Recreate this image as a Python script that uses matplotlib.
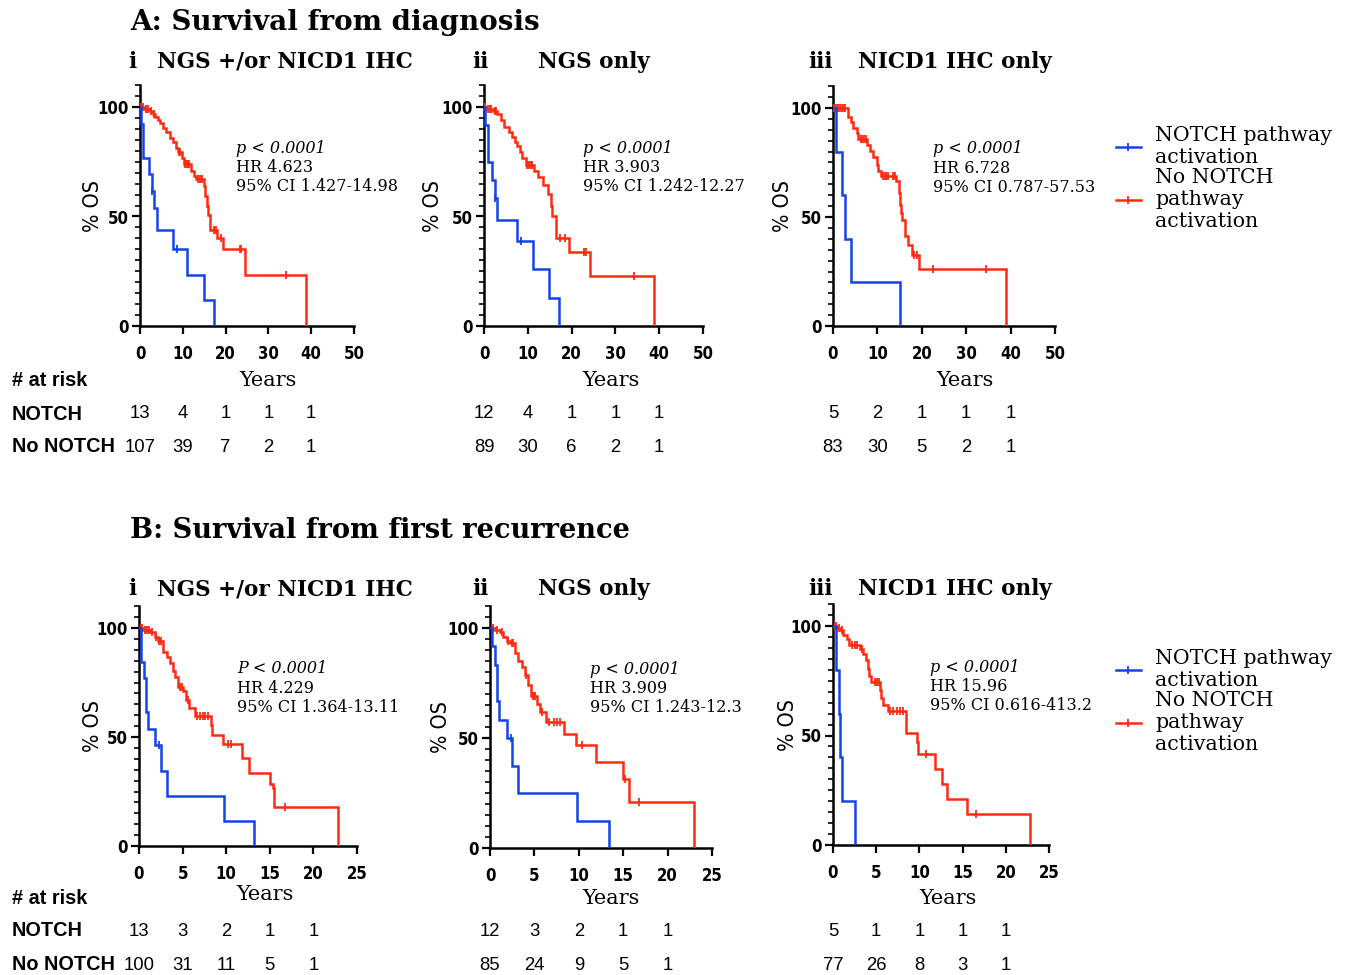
import numpy as np
import matplotlib
matplotlib.use("Agg")
import matplotlib.pyplot as plt
from matplotlib.lines import Line2D
from matplotlib.ticker import MultipleLocator

W, H = 1345, 975
RED = "#ff2a10"
BLUE = "#1444e8"
SERIF = ["DejaVu Serif"]
NARROW = ["DejaVu Sans"]
SANS = ["Liberation Sans", "DejaVu Sans"]

# ---- data: (event times, survival % after event, censor times) ----
ai_blue_t = [0.3, 0.8, 2.2, 2.7, 3.3, 4.0, 7.6, 11.0, 15.0, 17.3]
ai_blue_s = [92.3, 76.9, 69.2, 61.5, 53.8, 44.0, 35.0, 23.5, 11.7, 0]
ai_blue_c = [2.9, 8.7]
ai_red_t = [1.0, 2.3, 3.0, 3.6, 4.2, 4.6, 5.3, 6.1, 7.0, 7.8, 8.4, 8.8, 9.7, 10.3, 12.0, 12.5,
            13.2, 14.9, 15.3, 15.6, 15.9, 16.4, 18.0, 19.4, 24.5, 38.8]
ai_red_s = [99, 98, 97, 95.5, 94, 92.5, 90.5, 88.5, 86, 84, 81.5, 79.5, 76.5, 74, 71, 68.5,
            67, 64, 59.5, 55, 50.5, 44, 40, 35, 23.2, 0]
ai_red_c = [0.3, 0.6, 1.5, 1.8, 2.6, 3.2, 9.1, 9.4, 10.6, 10.9, 11.2, 11.5, 13.6, 14.0, 14.4,
            17.2, 17.8, 19.0, 23.3, 23.7, 34.2]

aii_blue_t = [0.2, 0.8, 1.9, 2.4, 3.0, 7.6, 11.2, 14.8, 17.1]
aii_blue_s = [91.7, 75, 66.7, 58.3, 48.6, 38.9, 25.9, 13, 0]
aii_blue_c = [2.6, 8.5]
aii_red_t = [0.5, 2.0, 3.0, 3.9, 4.6, 5.7, 6.5, 7.0, 7.6, 8.2, 8.6, 9.5, 11.4, 12.3, 13.5,
             14.7, 15.2, 15.5, 16.4, 19.4, 24.3, 38.9]
aii_red_s = [99, 98, 97, 94, 91, 88.5, 86.5, 84, 82, 79.5, 76.5, 73.5, 71, 68, 64.5,
             60.5, 55, 50, 40, 34, 22.7, 0]
aii_red_c = [0.3, 1.0, 1.4, 1.7, 2.4, 2.7, 9.9, 10.3, 10.8, 11.0, 17.3, 18.4, 22.8, 23.3, 34.3]

aiii_blue_t = [0.75, 2.0, 2.6, 4.0, 15.0]
aiii_blue_s = [80, 60, 40, 20, 0]
aiii_blue_c = []
aiii_red_t = [3.4, 4.0, 4.5, 5.3, 5.6, 7.7, 8.3, 8.9, 9.8, 10.2, 10.9, 14.3, 14.9, 15.2, 15.4,
              15.6, 16.2, 16.9, 17.7, 19.4, 38.9]
aiii_red_s = [96, 93.5, 91, 88.5, 86, 83, 80.5, 77.5, 74, 71, 69, 66.5, 61, 55.5, 52,
              48.5, 41.5, 37, 32.5, 26, 0]
aiii_red_c = [0.3, 0.7, 1.2, 1.6, 2.0, 2.4, 2.8, 6.2, 6.6, 7.0, 7.4, 11.2, 11.6, 12.0, 12.4,
              13.5, 13.9, 18.3, 18.9, 22.5, 34.5]

bi_blue_t = [0.27, 0.6, 0.77, 1.07, 1.84, 2.5, 3.2, 9.8, 13.2]
bi_blue_s = [84.6, 76.9, 61.5, 53.8, 46.2, 34.6, 23.1, 11.5, 0]
bi_blue_c = [2.35]
bi_red_t = [0.5, 1.3, 1.8, 2.2, 2.8, 3.2, 3.6, 3.9, 4.1, 4.5, 5.1, 5.4, 5.7, 6.4, 8.2, 8.4,
            9.6, 11.8, 12.6, 15.0, 15.35, 15.5, 22.8]
bi_red_s = [99, 98, 96, 94, 89, 86.5, 84, 80.5, 77.5, 73, 71, 67, 63.5, 59.5, 55.5, 51,
            47, 40.5, 33.5, 28.5, 26.5, 18, 0]
bi_red_c = [0.2, 0.4, 0.7, 0.9, 1.1, 1.5, 2.0, 2.3, 2.5, 4.7, 4.9, 5.6, 6.7, 7.0, 7.3, 7.6,
            7.9, 10.2, 10.5, 16.7]

bii_blue_t = [0.2, 0.56, 0.75, 1.05, 1.95, 2.5, 3.2, 9.85, 13.4]
bii_blue_s = [91.7, 83.3, 66.7, 58.3, 50, 37.5, 25, 12.5, 0]
bii_blue_c = [2.4]
bii_red_t = [0.56, 1.1, 1.5, 1.9, 2.26, 2.8, 3.1, 3.6, 3.95, 4.3, 4.6, 5.3, 5.6, 6.3, 8.3,
             9.7, 11.9, 15.0, 15.6, 23.0]
bii_red_s = [99, 98, 96, 94, 93, 88.5, 85, 82.5, 78.5, 74, 69, 65.5, 62, 57.5, 52,
             47, 39, 31.5, 20.7, 0]
bii_red_c = [0.3, 0.8, 1.3, 2.0, 2.5, 2.6, 4.0, 4.8, 5.0, 5.1, 5.8, 6.6, 7.2, 7.6, 7.9,
             10.4, 15.2, 16.8]

biii_blue_t = [0.4, 0.75, 0.85, 1.0, 2.5]
biii_blue_s = [80, 60, 40, 20, 0]
biii_blue_c = []
biii_red_t = [0.5, 0.85, 1.2, 1.6, 1.9, 3.1, 3.5, 3.85, 4.0, 4.2, 4.4, 5.4, 5.6, 5.8, 6.4,
              8.4, 8.5, 9.7, 9.8, 11.8, 12.6, 13.2, 15.5, 22.8]
biii_red_s = [99, 98, 96, 94, 91.5, 89.5, 87, 84.5, 80.5, 77, 74.5, 71, 67, 64, 61,
              56, 51, 47, 41.5, 34.5, 28, 21, 14, 0]
biii_red_c = [0.2, 0.4, 0.7, 1.0, 2.2, 2.5, 2.8, 3.3, 4.9, 5.1, 5.3, 6.6, 7.0, 7.4, 7.8,
              8.1, 10.8, 16.6]

p_texts = ["p < 0.0001", "p < 0.0001", "p < 0.0001", "P < 0.0001", "p < 0.0001", "p < 0.0001"]
hr_texts = ["HR 4.623", "HR 3.903", "HR 6.728", "HR 4.229", "HR 3.909", "HR 15.96"]
ci_texts = ["95% CI 1.427-14.98", "95% CI 1.242-12.27", "95% CI 0.787-57.53",
            "95% CI 1.364-13.11", "95% CI 1.243-12.3", "95% CI 0.616-413.2"]
roman = ["i", "ii", "iii"]
subtitles = ["NGS +/or NICD1 IHC", "NGS only", "NICD1 IHC only"]

risk_times_a = [0, 10, 20, 30, 40]
risk_times_b = [0, 5, 10, 15, 20]
risk_notch = [[13, 4, 1, 1, 1], [12, 4, 1, 1, 1], [5, 2, 1, 1, 1],
              [13, 3, 2, 1, 1], [12, 3, 2, 1, 1], [5, 1, 1, 1, 1]]
risk_no = [[107, 39, 7, 2, 1], [89, 30, 6, 2, 1], [83, 30, 5, 2, 1],
           [100, 31, 11, 5, 1], [85, 24, 9, 5, 1], [77, 26, 8, 3, 1]]

curves = [
    (ai_blue_t, ai_blue_s, ai_blue_c, ai_red_t, ai_red_s, ai_red_c),
    (aii_blue_t, aii_blue_s, aii_blue_c, aii_red_t, aii_red_s, aii_red_c),
    (aiii_blue_t, aiii_blue_s, aiii_blue_c, aiii_red_t, aiii_red_s, aiii_red_c),
    (bi_blue_t, bi_blue_s, bi_blue_c, bi_red_t, bi_red_s, bi_red_c),
    (bii_blue_t, bii_blue_s, bii_blue_c, bii_red_t, bii_red_s, bii_red_c),
    (biii_blue_t, biii_blue_s, biii_blue_c, biii_red_t, biii_red_s, biii_red_c),
]

# axes boxes in pixels: left, right, y of 100%, y of 0%
boxes = [(140, 354, 107, 326), (484, 703, 107, 326), (833, 1055, 108, 326),
         (139, 357, 628, 846), (490, 712, 628, 848), (833, 1049, 626, 845)]
ylabel_x = [103, 443, 793, 103, 451, 798]

fig = plt.figure(figsize=(W / 100, H / 100), dpi=100)


def km(ax, t, s, c, color):
    tt = [0] + list(t)
    ss = [100] + list(s)
    ax.step(tt, ss, where="post", color=color, lw=1.8, solid_joinstyle="miter", zorder=3)
    if c:
        idx = np.searchsorted(tt, c, side="right") - 1
        ax.plot(c, np.array(ss)[idx], ls="none", marker="|", ms=6, mew=1.3, color=color, zorder=3)


for i, (box, cv) in enumerate(zip(boxes, curves)):
    l, r, y100, y0 = box
    top = y0 - (y0 - y100) * 1.1
    ax = fig.add_axes([l / W, 1 - y0 / H, (r - l) / W, (y0 - top) / H])
    km(ax, cv[3], cv[4], cv[5], RED)
    km(ax, cv[0], cv[1], cv[2], BLUE)
    xmax = 50 if i < 3 else 25
    ax.set_xlim(0, xmax)
    ax.set_ylim(0, 110)
    ax.xaxis.set_major_locator(MultipleLocator(10 if i < 3 else 5))
    ax.set_yticks([0, 50, 100])
    ax.yaxis.set_minor_locator(MultipleLocator(5))
    for sp in ["top", "right"]:
        ax.spines[sp].set_visible(False)
    for sp in ["left", "bottom"]:
        ax.spines[sp].set_linewidth(1.8)
    ax.tick_params(axis="both", which="major", direction="out", length=6, width=1.6,
                   labelsize=12, pad=8)
    ax.tick_params(axis="y", which="minor", direction="out", length=3.5, width=1.2)
    ax.tick_params(axis="y", which="major", pad=2)
    for lab in ax.get_xticklabels() + ax.get_yticklabels():
        lab.set_family(NARROW)
        lab.set_fontweight("bold")
        lab.set_fontstretch("condensed")
    ax.patch.set_visible(False)
    ax.set_ylabel("% OS", family=NARROW, fontstretch="condensed", fontsize=15.5)
    ax.yaxis.set_label_coords((ylabel_x[i] - l) / (r - l), 0.5)
    ax.text(0.45, 0.72, p_texts[i], transform=ax.transAxes, family=SERIF, style="italic", fontsize=11.5)
    ax.text(0.45, 0.64, hr_texts[i], transform=ax.transAxes, family=SERIF, fontsize=11.5)
    ax.text(0.45, 0.56, ci_texts[i], transform=ax.transAxes, family=SERIF, fontsize=11.5)

    # panel title
    col = i % 3
    ty = 62 if i < 3 else 589
    fig.text([128, 472, 808][col] / W, 1 - ty / H, roman[col], family=SERIF, fontsize=15.5,
             fontweight="bold", va="center")
    fig.text([157, 538, 858][col] / W, 1 - ty / H, subtitles[col], family=SERIF, fontsize=15.5,
             fontweight="bold", va="center")

    # years label
    yy = [381, 381, 381, 894, 898, 898][i]
    yx = [268, 611, 965, 265, 611, 948][i]
    fig.text(yx / W, 1 - yy / H, "Years", family=SERIF, fontsize=15, ha="center", va="center")

    # at-risk numbers
    rt = risk_times_a if i < 3 else risk_times_b
    row1 = 414 if i < 3 else 931
    row2 = 447 if i < 3 else 965
    for k, x in enumerate(rt):
        xp = ax.transData.transform((x, 0))[0] / fig.dpi / fig.get_figwidth()
        fig.text(xp, 1 - row1 / H, str(risk_notch[i][k]), family=SANS, fontsize=13.3,
                 ha="center", va="center")
        fig.text(xp, 1 - row2 / H, str(risk_no[i][k]), family=SANS, fontsize=13.3,
                 ha="center", va="center")

    if col == 2:
        handles = [Line2D([], [], color=BLUE, lw=1.8, marker="|", ms=6, mew=1.3),
                   Line2D([], [], color=RED, lw=1.8, marker="|", ms=6, mew=1.3)]
        leg_y = 126 if i < 3 else 649
        fig.legend(handles, ["NOTCH pathway\nactivation", "No NOTCH\npathway\nactivation"],
                   loc="upper left", bbox_to_anchor=(1116 / W, 1 - leg_y / H), frameon=False,
                   prop={"family": SERIF, "size": 14.8}, handlelength=1.2, handletextpad=0.7,
                   labelspacing=0.05, numpoints=1, borderaxespad=0, borderpad=0)

# section titles
fig.text(130 / W, 1 - 23 / H, "A: Survival from diagnosis", family=SERIF, fontsize=20,
         fontweight="bold", va="center")
fig.text(130 / W, 1 - 530 / H, "B: Survival from first recurrence", family=SERIF, fontsize=19.6,
         fontweight="bold", va="center")

# at-risk row labels
for y_risk, y1, y2 in [(381, 414, 447), (899, 931, 965)]:
    fig.text(12 / W, 1 - y_risk / H, "# at risk", family=SANS, fontsize=14.3, fontweight="bold", va="center")
    fig.text(12 / W, 1 - y1 / H, "NOTCH", family=SANS, fontsize=14.3, fontweight="bold", va="center")
    fig.text(12 / W, 1 - y2 / H, "No NOTCH", family=SANS, fontsize=14.3, fontweight="bold", va="center")

fig.savefig("out.png", dpi=100)
